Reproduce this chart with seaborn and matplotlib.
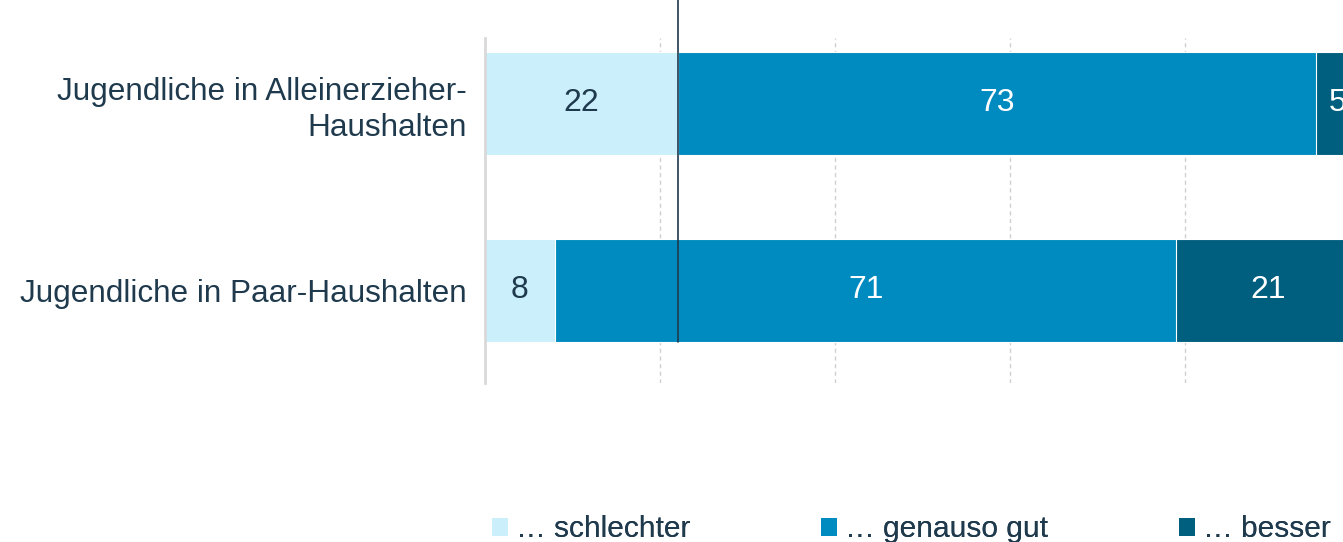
import pandas as pd
import matplotlib.pyplot as plt
import seaborn as sns
from matplotlib.patches import Patch

# data
groups = ["Jugendliche in Alleinerzieher-\nHaushalten", "Jugendliche in Paar-Haushalten"]
schlechter = [22, 8]
genauso = [73, 71]
besser = [5, 21]
labels = ["… schlechter", "… genauso gut", "… besser"]
colors = ["#CCEFFC", "#008BC0", "#005F7E"]
text_colors = ["#1F3A4D", "white", "white"]

df = pd.DataFrame({"group": groups, "schlechter": schlechter,
                   "genauso": genauso, "besser": besser})
df["c1"] = df["schlechter"]
df["c2"] = df["c1"] + df["genauso"]
df["c3"] = df["c2"] + df["besser"]

sns.set_style("white")
plt.rcParams["font.family"] = ["Liberation Sans", "DejaVu Sans"]

fig = plt.figure(figsize=(13.43, 5.42), dpi=100)
ax = fig.add_axes([485 / 1343, 1 - 383 / 542, 875 / 1343, 345 / 542])

# stacked bars: draw cumulative totals from largest to smallest
for col, c in zip(["c3", "c2", "c1"], colors[::-1]):
    sns.barplot(data=df, y="group", x=col, color=c, orient="h", width=0.551,
                edgecolor="white", linewidth=0.8, ax=ax, saturation=1)

# value labels
for i in range(len(groups)):
    starts = [0, df["c1"][i], df["c2"][i]]
    vals = [schlechter[i], genauso[i], besser[i]]
    for s, v, tc in zip(starts, vals, text_colors):
        ax.text(s + v / 2, i, str(v), ha="center", va="center",
                fontsize=23, color=tc, clip_on=False)

ax.set_xlim(0, 100)
ax.set_ylim(1.495, -0.35)
ax.set_xticks([0, 20, 40, 60, 80, 100])
ax.set_xticklabels([])
ax.tick_params(axis="x", length=0)
ax.tick_params(axis="y", length=0, pad=13, labelsize=22.7, labelcolor="#1F3A4D")
ax.set_xlabel("")
ax.set_ylabel("")
ax.xaxis.grid(True, linestyle=(0, (3, 2.5)), color="#D0D0D0", linewidth=1)
ax.set_axisbelow(True)
for s in ["top", "right", "bottom"]:
    ax.spines[s].set_visible(False)
ax.spines["left"].set_color("#D9D9D9")
ax.spines["left"].set_linewidth(2)
for lbl in ax.get_yticklabels():
    lbl.set_linespacing(1.28)

# reference line at 22
ax.plot([22, 22], [-0.56, 1.2755], color="#1F3A4D", linewidth=1.2,
        clip_on=False, zorder=5)

# legend entries placed one by one along the bottom
leg_x = [492, 821, 1179]
for c, lab, x in zip(colors, labels, leg_x):
    leg = fig.legend([Patch(facecolor=c, edgecolor="none")], [lab], loc="lower left",
                     bbox_to_anchor=(x / 1343, -0.002), frameon=False, fontsize=21.5,
                     labelcolor="#1F3A4D", handlelength=0.55, handleheight=0.55,
                     handletextpad=0.25, borderpad=0, borderaxespad=0)
    fig.add_artist(leg)

fig.savefig("out.png", dpi=100)
